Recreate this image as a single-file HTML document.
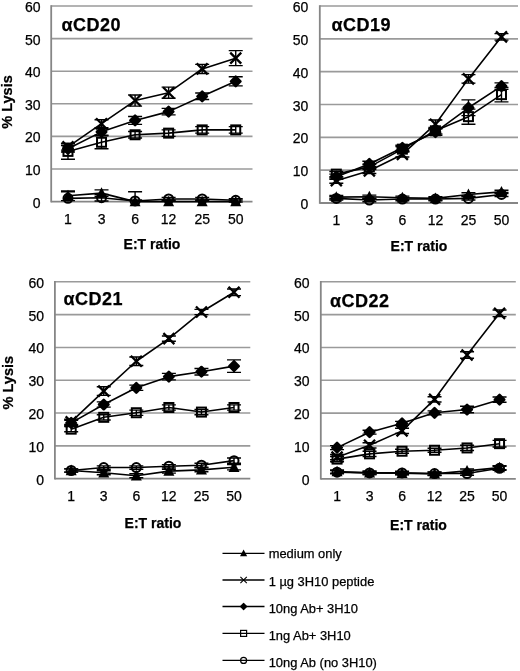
<!DOCTYPE html>
<html><head><meta charset="utf-8"><title>Lysis charts</title>
<style>
html,body{margin:0;padding:0;background:#fff;}
body{width:520px;height:671px;overflow:hidden;}
svg{display:block;font-family:"Liberation Sans", sans-serif;will-change:transform;}
text{fill:#000;stroke:#000;stroke-width:0.25px;}
</style></head>
<body>
<svg width="520" height="671" viewBox="0 0 520 671">
<rect width="520" height="671" fill="#fff"/>
<line x1="51.20" y1="169.00" x2="252.50" y2="169.00" stroke="#9a9a9a" stroke-width="1.6"/>
<line x1="51.20" y1="136.40" x2="252.50" y2="136.40" stroke="#9a9a9a" stroke-width="1.6"/>
<line x1="51.20" y1="103.80" x2="252.50" y2="103.80" stroke="#9a9a9a" stroke-width="1.6"/>
<line x1="51.20" y1="71.20" x2="252.50" y2="71.20" stroke="#9a9a9a" stroke-width="1.6"/>
<line x1="51.20" y1="38.60" x2="252.50" y2="38.60" stroke="#9a9a9a" stroke-width="1.6"/>
<line x1="51.20" y1="6.00" x2="252.50" y2="6.00" stroke="#9a9a9a" stroke-width="1.6"/>
<line x1="51.20" y1="5.20" x2="51.20" y2="202.40" stroke="#868686" stroke-width="1.8"/>
<line x1="51.20" y1="201.60" x2="252.50" y2="201.60" stroke="#868686" stroke-width="1.8"/>
<text x="40.60" y="207.60" text-anchor="end" font-size="14">0</text>
<text x="40.60" y="175.00" text-anchor="end" font-size="14">10</text>
<text x="40.60" y="142.40" text-anchor="end" font-size="14">20</text>
<text x="40.60" y="109.80" text-anchor="end" font-size="14">30</text>
<text x="40.60" y="77.20" text-anchor="end" font-size="14">40</text>
<text x="40.60" y="44.60" text-anchor="end" font-size="14">50</text>
<text x="40.60" y="12.00" text-anchor="end" font-size="14">60</text>
<text x="67.98" y="223.80" text-anchor="middle" font-size="14">1</text>
<text x="101.53" y="223.80" text-anchor="middle" font-size="14">3</text>
<text x="135.08" y="223.80" text-anchor="middle" font-size="14">6</text>
<text x="168.62" y="223.80" text-anchor="middle" font-size="14">12</text>
<text x="202.18" y="223.80" text-anchor="middle" font-size="14">25</text>
<text x="235.73" y="223.80" text-anchor="middle" font-size="14">50</text>
<text x="152.00" y="248.70" text-anchor="middle" font-size="14" font-weight="bold">E:T ratio</text>
<text x="61.50" y="30.60" font-size="18" letter-spacing="0.5" font-weight="bold">αCD20</text>
<text x="12.30" y="102.00" text-anchor="middle" font-size="14.5" font-weight="bold" transform="rotate(-90 12.30 102.00)">% Lysis</text>
<path d="M67.98,191.82 L67.98,201.60 M60.98,191.82 L74.98,191.82 " stroke="#000" stroke-width="1.4" fill="none"/>
<path d="M101.53,194.43 L101.53,200.95 M94.53,194.43 L108.53,194.43 M94.53,200.95 L108.53,200.95" stroke="#000" stroke-width="1.4" fill="none"/>
<path d="M135.08,191.82 L135.08,201.60 M128.08,191.82 L142.08,191.82 " stroke="#000" stroke-width="1.4" fill="none"/>
<path d="M168.62,197.36 L168.62,200.62 M161.62,197.36 L175.62,197.36 M161.62,200.62 L175.62,200.62" stroke="#000" stroke-width="1.4" fill="none"/>
<path d="M202.18,197.36 L202.18,200.62 M195.18,197.36 L209.18,197.36 M195.18,200.62 L209.18,200.62" stroke="#000" stroke-width="1.4" fill="none"/>
<path d="M235.73,198.67 L235.73,201.60 M228.73,198.67 L242.73,198.67 M228.73,201.93 L242.73,201.93" stroke="#000" stroke-width="1.4" fill="none"/>
<path d="M67.98,198.34 L101.53,197.69 L135.08,200.95 L168.62,198.99 L202.18,198.99 L235.73,200.30" stroke="#000" stroke-width="1.6" fill="none" stroke-linejoin="round"/>
<circle cx="67.98" cy="198.34" r="4.50" fill="none" stroke="#000" stroke-width="2.0"/>
<circle cx="101.53" cy="197.69" r="4.50" fill="none" stroke="#000" stroke-width="2.0"/>
<circle cx="135.08" cy="200.95" r="4.50" fill="none" stroke="#000" stroke-width="2.0"/>
<circle cx="168.62" cy="198.99" r="4.50" fill="none" stroke="#000" stroke-width="2.0"/>
<circle cx="202.18" cy="198.99" r="4.50" fill="none" stroke="#000" stroke-width="2.0"/>
<circle cx="235.73" cy="200.30" r="4.50" fill="none" stroke="#000" stroke-width="2.0"/>
<path d="M67.98,190.84 L67.98,200.62 M60.98,190.84 L74.98,190.84 M60.98,200.62 L74.98,200.62" stroke="#000" stroke-width="1.4" fill="none"/>
<path d="M101.53,189.86 L101.53,196.38 M94.53,189.86 L108.53,189.86 M94.53,196.38 L108.53,196.38" stroke="#000" stroke-width="1.4" fill="none"/>
<path d="M135.08,199.97 L135.08,201.60 M128.08,199.97 L142.08,199.97 " stroke="#000" stroke-width="1.4" fill="none"/>
<path d="M168.62,199.97 L168.62,201.60 M161.62,199.97 L175.62,199.97 " stroke="#000" stroke-width="1.4" fill="none"/>
<path d="M202.18,199.97 L202.18,201.60 M195.18,199.97 L209.18,199.97 " stroke="#000" stroke-width="1.4" fill="none"/>
<path d="M235.73,199.97 L235.73,201.60 M228.73,199.97 L242.73,199.97 " stroke="#000" stroke-width="1.4" fill="none"/>
<path d="M67.98,195.73 L101.53,193.12 L135.08,201.60 L168.62,201.60 L202.18,201.60 L235.73,201.60" stroke="#000" stroke-width="1.6" fill="none" stroke-linejoin="round"/>
<path d="M67.98,189.79 L73.48,200.41 L62.48,200.41Z" fill="#000"/>
<path d="M101.53,187.18 L107.03,197.80 L96.03,197.80Z" fill="#000"/>
<path d="M135.08,195.66 L140.58,206.28 L129.58,206.28Z" fill="#000"/>
<path d="M168.62,195.66 L174.12,206.28 L163.12,206.28Z" fill="#000"/>
<path d="M202.18,195.66 L207.68,206.28 L196.68,206.28Z" fill="#000"/>
<path d="M235.73,195.66 L241.23,206.28 L230.23,206.28Z" fill="#000"/>
<path d="M67.98,143.57 L67.98,159.22 M60.98,143.57 L74.98,143.57 M60.98,159.22 L74.98,159.22" stroke="#000" stroke-width="1.4" fill="none"/>
<path d="M101.53,135.75 L101.53,148.79 M94.53,135.75 L108.53,135.75 M94.53,148.79 L108.53,148.79" stroke="#000" stroke-width="1.4" fill="none"/>
<path d="M135.08,131.51 L135.08,138.03 M128.08,131.51 L142.08,131.51 M128.08,138.03 L142.08,138.03" stroke="#000" stroke-width="1.4" fill="none"/>
<path d="M168.62,129.88 L168.62,136.40 M161.62,129.88 L175.62,129.88 M161.62,136.40 L175.62,136.40" stroke="#000" stroke-width="1.4" fill="none"/>
<path d="M202.18,126.62 L202.18,133.14 M195.18,126.62 L209.18,126.62 M195.18,133.14 L209.18,133.14" stroke="#000" stroke-width="1.4" fill="none"/>
<path d="M235.73,126.62 L235.73,133.14 M228.73,126.62 L242.73,126.62 M228.73,133.14 L242.73,133.14" stroke="#000" stroke-width="1.4" fill="none"/>
<path d="M67.98,151.40 L101.53,142.27 L135.08,134.77 L168.62,133.14 L202.18,129.88 L235.73,129.88" stroke="#000" stroke-width="1.6" fill="none" stroke-linejoin="round"/>
<rect x="63.48" y="146.90" width="9.00" height="9.00" fill="none" stroke="#000" stroke-width="2.0"/>
<rect x="97.03" y="137.77" width="9.00" height="9.00" fill="none" stroke="#000" stroke-width="2.0"/>
<rect x="130.58" y="130.27" width="9.00" height="9.00" fill="none" stroke="#000" stroke-width="2.0"/>
<rect x="164.12" y="128.64" width="9.00" height="9.00" fill="none" stroke="#000" stroke-width="2.0"/>
<rect x="197.68" y="125.38" width="9.00" height="9.00" fill="none" stroke="#000" stroke-width="2.0"/>
<rect x="231.23" y="125.38" width="9.00" height="9.00" fill="none" stroke="#000" stroke-width="2.0"/>
<path d="M67.98,145.53 L67.98,152.05 M60.98,145.53 L74.98,145.53 M60.98,152.05 L74.98,152.05" stroke="#000" stroke-width="1.4" fill="none"/>
<path d="M101.53,128.58 L101.53,135.10 M94.53,128.58 L108.53,128.58 M94.53,135.10 L108.53,135.10" stroke="#000" stroke-width="1.4" fill="none"/>
<path d="M135.08,116.51 L135.08,124.34 M128.08,116.51 L142.08,116.51 M128.08,124.34 L142.08,124.34" stroke="#000" stroke-width="1.4" fill="none"/>
<path d="M168.62,108.36 L168.62,114.88 M161.62,108.36 L175.62,108.36 M161.62,114.88 L175.62,114.88" stroke="#000" stroke-width="1.4" fill="none"/>
<path d="M202.18,93.04 L202.18,99.56 M195.18,93.04 L209.18,93.04 M195.18,99.56 L209.18,99.56" stroke="#000" stroke-width="1.4" fill="none"/>
<path d="M235.73,76.74 L235.73,85.87 M228.73,76.74 L242.73,76.74 M228.73,85.87 L242.73,85.87" stroke="#000" stroke-width="1.4" fill="none"/>
<path d="M67.98,148.79 L101.53,131.84 L135.08,120.43 L168.62,111.62 L202.18,96.30 L235.73,81.31" stroke="#000" stroke-width="1.6" fill="none" stroke-linejoin="round"/>
<path d="M67.98,144.09 L72.68,148.79 L67.98,153.49 L63.28,148.79Z" fill="#000" stroke="#000" stroke-width="2.6" stroke-linejoin="round"/>
<path d="M101.53,127.14 L106.23,131.84 L101.53,136.54 L96.83,131.84Z" fill="#000" stroke="#000" stroke-width="2.6" stroke-linejoin="round"/>
<path d="M135.08,115.73 L139.78,120.43 L135.08,125.13 L130.38,120.43Z" fill="#000" stroke="#000" stroke-width="2.6" stroke-linejoin="round"/>
<path d="M168.62,106.92 L173.32,111.62 L168.62,116.32 L163.93,111.62Z" fill="#000" stroke="#000" stroke-width="2.6" stroke-linejoin="round"/>
<path d="M202.18,91.60 L206.88,96.30 L202.18,101.00 L197.48,96.30Z" fill="#000" stroke="#000" stroke-width="2.6" stroke-linejoin="round"/>
<path d="M235.73,76.61 L240.43,81.31 L235.73,86.01 L231.03,81.31Z" fill="#000" stroke="#000" stroke-width="2.6" stroke-linejoin="round"/>
<path d="M67.98,143.57 L67.98,150.09 M60.98,143.57 L74.98,143.57 M60.98,150.09 L74.98,150.09" stroke="#000" stroke-width="1.4" fill="none"/>
<path d="M101.53,119.77 L101.53,127.60 M94.53,119.77 L108.53,119.77 M94.53,127.60 L108.53,127.60" stroke="#000" stroke-width="1.4" fill="none"/>
<path d="M135.08,95.00 L135.08,106.08 M128.08,95.00 L142.08,95.00 M128.08,106.08 L142.08,106.08" stroke="#000" stroke-width="1.4" fill="none"/>
<path d="M168.62,87.17 L168.62,98.26 M161.62,87.17 L175.62,87.17 M161.62,98.26 L175.62,98.26" stroke="#000" stroke-width="1.4" fill="none"/>
<path d="M202.18,64.35 L202.18,73.48 M195.18,64.35 L209.18,64.35 M195.18,73.48 L209.18,73.48" stroke="#000" stroke-width="1.4" fill="none"/>
<path d="M235.73,50.66 L235.73,65.66 M228.73,50.66 L242.73,50.66 M228.73,65.66 L242.73,65.66" stroke="#000" stroke-width="1.4" fill="none"/>
<path d="M67.98,146.83 L101.53,123.69 L135.08,100.54 L168.62,92.72 L202.18,68.92 L235.73,58.16" stroke="#000" stroke-width="1.6" fill="none" stroke-linejoin="round"/>
<path d="M62.48,141.33 L73.48,152.33 M73.48,141.33 L62.48,152.33" stroke="#000" stroke-width="2.3" fill="none"/>
<path d="M96.03,118.19 L107.03,129.19 M107.03,118.19 L96.03,129.19" stroke="#000" stroke-width="2.3" fill="none"/>
<path d="M129.58,95.04 L140.58,106.04 M140.58,95.04 L129.58,106.04" stroke="#000" stroke-width="2.3" fill="none"/>
<path d="M163.12,87.22 L174.12,98.22 M174.12,87.22 L163.12,98.22" stroke="#000" stroke-width="2.3" fill="none"/>
<path d="M196.68,63.42 L207.68,74.42 M207.68,63.42 L196.68,74.42" stroke="#000" stroke-width="2.3" fill="none"/>
<path d="M230.23,52.66 L241.23,63.66 M241.23,52.66 L230.23,63.66" stroke="#000" stroke-width="2.3" fill="none"/>
<line x1="319.80" y1="170.17" x2="518.00" y2="170.17" stroke="#9a9a9a" stroke-width="1.6"/>
<line x1="319.80" y1="137.33" x2="518.00" y2="137.33" stroke="#9a9a9a" stroke-width="1.6"/>
<line x1="319.80" y1="104.50" x2="518.00" y2="104.50" stroke="#9a9a9a" stroke-width="1.6"/>
<line x1="319.80" y1="71.67" x2="518.00" y2="71.67" stroke="#9a9a9a" stroke-width="1.6"/>
<line x1="319.80" y1="38.83" x2="518.00" y2="38.83" stroke="#9a9a9a" stroke-width="1.6"/>
<line x1="319.80" y1="6.00" x2="518.00" y2="6.00" stroke="#9a9a9a" stroke-width="1.6"/>
<line x1="319.80" y1="5.20" x2="319.80" y2="203.80" stroke="#868686" stroke-width="1.8"/>
<line x1="319.80" y1="203.00" x2="518.00" y2="203.00" stroke="#868686" stroke-width="1.8"/>
<text x="308.40" y="209.00" text-anchor="end" font-size="14">0</text>
<text x="308.40" y="176.17" text-anchor="end" font-size="14">10</text>
<text x="308.40" y="143.33" text-anchor="end" font-size="14">20</text>
<text x="308.40" y="110.50" text-anchor="end" font-size="14">30</text>
<text x="308.40" y="77.67" text-anchor="end" font-size="14">40</text>
<text x="308.40" y="44.83" text-anchor="end" font-size="14">50</text>
<text x="308.40" y="12.00" text-anchor="end" font-size="14">60</text>
<text x="336.32" y="224.90" text-anchor="middle" font-size="14">1</text>
<text x="369.35" y="224.90" text-anchor="middle" font-size="14">3</text>
<text x="402.38" y="224.90" text-anchor="middle" font-size="14">6</text>
<text x="435.42" y="224.90" text-anchor="middle" font-size="14">12</text>
<text x="468.45" y="224.90" text-anchor="middle" font-size="14">25</text>
<text x="501.48" y="224.90" text-anchor="middle" font-size="14">50</text>
<text x="419.00" y="250.70" text-anchor="middle" font-size="14" font-weight="bold">E:T ratio</text>
<text x="331.50" y="30.90" font-size="18" letter-spacing="0.5" font-weight="bold">αCD19</text>
<path d="M336.32,196.76 L336.32,200.05 M329.32,196.76 L343.32,196.76 M329.32,200.05 L343.32,200.05" stroke="#000" stroke-width="1.4" fill="none"/>
<path d="M369.35,198.40 L369.35,201.69 M362.35,198.40 L376.35,198.40 M362.35,201.69 L376.35,201.69" stroke="#000" stroke-width="1.4" fill="none"/>
<path d="M402.38,197.42 L402.38,200.70 M395.38,197.42 L409.38,197.42 M395.38,200.70 L409.38,200.70" stroke="#000" stroke-width="1.4" fill="none"/>
<path d="M435.42,197.42 L435.42,200.70 M428.42,197.42 L442.42,197.42 M428.42,200.70 L442.42,200.70" stroke="#000" stroke-width="1.4" fill="none"/>
<path d="M468.45,196.76 L468.45,200.05 M461.45,196.76 L475.45,196.76 M461.45,200.05 L475.45,200.05" stroke="#000" stroke-width="1.4" fill="none"/>
<path d="M501.48,192.49 L501.48,196.43 M494.48,192.49 L508.48,192.49 M494.48,196.43 L508.48,196.43" stroke="#000" stroke-width="1.4" fill="none"/>
<path d="M336.32,198.40 L369.35,200.04 L402.38,199.06 L435.42,199.06 L468.45,198.40 L501.48,194.46" stroke="#000" stroke-width="1.6" fill="none" stroke-linejoin="round"/>
<circle cx="336.32" cy="198.40" r="4.50" fill="none" stroke="#000" stroke-width="2.0"/>
<circle cx="369.35" cy="200.04" r="4.50" fill="none" stroke="#000" stroke-width="2.0"/>
<circle cx="402.38" cy="199.06" r="4.50" fill="none" stroke="#000" stroke-width="2.0"/>
<circle cx="435.42" cy="199.06" r="4.50" fill="none" stroke="#000" stroke-width="2.0"/>
<circle cx="468.45" cy="198.40" r="4.50" fill="none" stroke="#000" stroke-width="2.0"/>
<circle cx="501.48" cy="194.46" r="4.50" fill="none" stroke="#000" stroke-width="2.0"/>
<path d="M336.32,195.45 L336.32,198.73 M329.32,195.45 L343.32,195.45 M329.32,198.73 L343.32,198.73" stroke="#000" stroke-width="1.4" fill="none"/>
<path d="M369.35,195.12 L369.35,198.40 M362.35,195.12 L376.35,195.12 M362.35,198.40 L376.35,198.40" stroke="#000" stroke-width="1.4" fill="none"/>
<path d="M402.38,196.10 L402.38,199.39 M395.38,196.10 L409.38,196.10 M395.38,199.39 L409.38,199.39" stroke="#000" stroke-width="1.4" fill="none"/>
<path d="M435.42,196.76 L435.42,200.05 M428.42,196.76 L442.42,196.76 M428.42,200.05 L442.42,200.05" stroke="#000" stroke-width="1.4" fill="none"/>
<path d="M468.45,192.82 L468.45,196.11 M461.45,192.82 L475.45,192.82 M461.45,196.11 L475.45,196.11" stroke="#000" stroke-width="1.4" fill="none"/>
<path d="M501.48,190.19 L501.48,193.48 M494.48,190.19 L508.48,190.19 M494.48,193.48 L508.48,193.48" stroke="#000" stroke-width="1.4" fill="none"/>
<path d="M336.32,197.09 L369.35,196.76 L402.38,197.75 L435.42,198.40 L468.45,194.46 L501.48,191.84" stroke="#000" stroke-width="1.6" fill="none" stroke-linejoin="round"/>
<path d="M336.32,191.15 L341.82,201.77 L330.82,201.77Z" fill="#000"/>
<path d="M369.35,190.82 L374.85,201.44 L363.85,201.44Z" fill="#000"/>
<path d="M402.38,191.81 L407.88,202.42 L396.88,202.42Z" fill="#000"/>
<path d="M435.42,192.46 L440.92,203.08 L429.92,203.08Z" fill="#000"/>
<path d="M468.45,188.52 L473.95,199.14 L462.95,199.14Z" fill="#000"/>
<path d="M501.48,185.90 L506.98,196.51 L495.98,196.51Z" fill="#000"/>
<path d="M336.32,171.48 L336.32,176.73 M329.32,171.48 L343.32,171.48 M329.32,176.73 L343.32,176.73" stroke="#000" stroke-width="1.4" fill="none"/>
<path d="M369.35,164.26 L369.35,169.51 M362.35,164.26 L376.35,164.26 M362.35,169.51 L376.35,169.51" stroke="#000" stroke-width="1.4" fill="none"/>
<path d="M402.38,146.53 L402.38,151.78 M395.38,146.53 L409.38,146.53 M395.38,151.78 L409.38,151.78" stroke="#000" stroke-width="1.4" fill="none"/>
<path d="M435.42,127.48 L435.42,134.05 M428.42,127.48 L442.42,127.48 M428.42,134.05 L442.42,134.05" stroke="#000" stroke-width="1.4" fill="none"/>
<path d="M468.45,109.10 L468.45,124.20 M461.45,109.10 L475.45,109.10 M461.45,124.20 L475.45,124.20" stroke="#000" stroke-width="1.4" fill="none"/>
<path d="M501.48,87.43 L501.48,101.87 M494.48,87.43 L508.48,87.43 M494.48,101.87 L508.48,101.87" stroke="#000" stroke-width="1.4" fill="none"/>
<path d="M336.32,174.11 L369.35,166.88 L402.38,149.15 L435.42,130.77 L468.45,116.65 L501.48,94.65" stroke="#000" stroke-width="1.6" fill="none" stroke-linejoin="round"/>
<rect x="331.82" y="169.61" width="9.00" height="9.00" fill="none" stroke="#000" stroke-width="2.0"/>
<rect x="364.85" y="162.38" width="9.00" height="9.00" fill="none" stroke="#000" stroke-width="2.0"/>
<rect x="397.88" y="144.65" width="9.00" height="9.00" fill="none" stroke="#000" stroke-width="2.0"/>
<rect x="430.92" y="126.27" width="9.00" height="9.00" fill="none" stroke="#000" stroke-width="2.0"/>
<rect x="463.95" y="112.15" width="9.00" height="9.00" fill="none" stroke="#000" stroke-width="2.0"/>
<rect x="496.98" y="90.15" width="9.00" height="9.00" fill="none" stroke="#000" stroke-width="2.0"/>
<path d="M336.32,174.11 L336.32,179.36 M329.32,174.11 L343.32,174.11 M329.32,179.36 L343.32,179.36" stroke="#000" stroke-width="1.4" fill="none"/>
<path d="M369.35,161.30 L369.35,166.56 M362.35,161.30 L376.35,161.30 M362.35,166.56 L376.35,166.56" stroke="#000" stroke-width="1.4" fill="none"/>
<path d="M402.38,145.21 L402.38,150.47 M395.38,145.21 L409.38,145.21 M395.38,150.47 L409.38,150.47" stroke="#000" stroke-width="1.4" fill="none"/>
<path d="M435.42,128.80 L435.42,135.36 M428.42,128.80 L442.42,128.80 M428.42,135.36 L442.42,135.36" stroke="#000" stroke-width="1.4" fill="none"/>
<path d="M468.45,99.90 L468.45,115.66 M461.45,99.90 L475.45,99.90 M461.45,115.66 L475.45,115.66" stroke="#000" stroke-width="1.4" fill="none"/>
<path d="M501.48,82.83 L501.48,89.40 M494.48,82.83 L508.48,82.83 M494.48,89.40 L508.48,89.40" stroke="#000" stroke-width="1.4" fill="none"/>
<path d="M336.32,176.73 L369.35,163.93 L402.38,147.84 L435.42,132.08 L468.45,107.78 L501.48,86.11" stroke="#000" stroke-width="1.6" fill="none" stroke-linejoin="round"/>
<path d="M336.32,172.03 L341.02,176.73 L336.32,181.43 L331.62,176.73Z" fill="#000" stroke="#000" stroke-width="2.6" stroke-linejoin="round"/>
<path d="M369.35,159.23 L374.05,163.93 L369.35,168.63 L364.65,163.93Z" fill="#000" stroke="#000" stroke-width="2.6" stroke-linejoin="round"/>
<path d="M402.38,143.14 L407.08,147.84 L402.38,152.54 L397.68,147.84Z" fill="#000" stroke="#000" stroke-width="2.6" stroke-linejoin="round"/>
<path d="M435.42,127.38 L440.12,132.08 L435.42,136.78 L430.72,132.08Z" fill="#000" stroke="#000" stroke-width="2.6" stroke-linejoin="round"/>
<path d="M468.45,103.08 L473.15,107.78 L468.45,112.48 L463.75,107.78Z" fill="#000" stroke="#000" stroke-width="2.6" stroke-linejoin="round"/>
<path d="M501.48,81.41 L506.18,86.11 L501.48,90.81 L496.78,86.11Z" fill="#000" stroke="#000" stroke-width="2.6" stroke-linejoin="round"/>
<path d="M336.32,178.05 L336.32,183.30 M329.32,178.05 L343.32,178.05 M329.32,183.30 L343.32,183.30" stroke="#000" stroke-width="1.4" fill="none"/>
<path d="M369.35,168.20 L369.35,173.45 M362.35,168.20 L376.35,168.20 M362.35,173.45 L376.35,173.45" stroke="#000" stroke-width="1.4" fill="none"/>
<path d="M402.38,151.78 L402.38,157.03 M395.38,151.78 L409.38,151.78 M395.38,157.03 L409.38,157.03" stroke="#000" stroke-width="1.4" fill="none"/>
<path d="M435.42,119.93 L435.42,128.47 M428.42,119.93 L442.42,119.93 M428.42,128.47 L442.42,128.47" stroke="#000" stroke-width="1.4" fill="none"/>
<path d="M468.45,74.62 L468.45,83.16 M461.45,74.62 L475.45,74.62 M461.45,83.16 L475.45,83.16" stroke="#000" stroke-width="1.4" fill="none"/>
<path d="M501.48,33.58 L501.48,40.15 M494.48,33.58 L508.48,33.58 M494.48,40.15 L508.48,40.15" stroke="#000" stroke-width="1.4" fill="none"/>
<path d="M336.32,180.67 L369.35,170.82 L402.38,154.41 L435.42,124.20 L468.45,78.89 L501.48,36.86" stroke="#000" stroke-width="1.6" fill="none" stroke-linejoin="round"/>
<path d="M330.82,175.17 L341.82,186.17 M341.82,175.17 L330.82,186.17" stroke="#000" stroke-width="2.3" fill="none"/>
<path d="M363.85,165.32 L374.85,176.32 M374.85,165.32 L363.85,176.32" stroke="#000" stroke-width="2.3" fill="none"/>
<path d="M396.88,148.91 L407.88,159.91 M407.88,148.91 L396.88,159.91" stroke="#000" stroke-width="2.3" fill="none"/>
<path d="M429.92,118.70 L440.92,129.70 M440.92,118.70 L429.92,129.70" stroke="#000" stroke-width="2.3" fill="none"/>
<path d="M462.95,73.39 L473.95,84.39 M473.95,73.39 L462.95,84.39" stroke="#000" stroke-width="2.3" fill="none"/>
<path d="M495.98,31.36 L506.98,42.36 M506.98,31.36 L495.98,42.36" stroke="#000" stroke-width="2.3" fill="none"/>
<line x1="54.90" y1="445.88" x2="250.30" y2="445.88" stroke="#9a9a9a" stroke-width="1.6"/>
<line x1="54.90" y1="413.07" x2="250.30" y2="413.07" stroke="#9a9a9a" stroke-width="1.6"/>
<line x1="54.90" y1="380.25" x2="250.30" y2="380.25" stroke="#9a9a9a" stroke-width="1.6"/>
<line x1="54.90" y1="347.43" x2="250.30" y2="347.43" stroke="#9a9a9a" stroke-width="1.6"/>
<line x1="54.90" y1="314.62" x2="250.30" y2="314.62" stroke="#9a9a9a" stroke-width="1.6"/>
<line x1="54.90" y1="281.80" x2="250.30" y2="281.80" stroke="#9a9a9a" stroke-width="1.6"/>
<line x1="54.90" y1="281.00" x2="54.90" y2="479.50" stroke="#868686" stroke-width="1.8"/>
<line x1="54.90" y1="478.70" x2="250.30" y2="478.70" stroke="#868686" stroke-width="1.8"/>
<text x="44.00" y="484.70" text-anchor="end" font-size="14">0</text>
<text x="44.00" y="451.88" text-anchor="end" font-size="14">10</text>
<text x="44.00" y="419.07" text-anchor="end" font-size="14">20</text>
<text x="44.00" y="386.25" text-anchor="end" font-size="14">30</text>
<text x="44.00" y="353.43" text-anchor="end" font-size="14">40</text>
<text x="44.00" y="320.62" text-anchor="end" font-size="14">50</text>
<text x="44.00" y="287.80" text-anchor="end" font-size="14">60</text>
<text x="71.18" y="500.50" text-anchor="middle" font-size="14">1</text>
<text x="103.75" y="500.50" text-anchor="middle" font-size="14">3</text>
<text x="136.32" y="500.50" text-anchor="middle" font-size="14">6</text>
<text x="168.88" y="500.50" text-anchor="middle" font-size="14">12</text>
<text x="201.45" y="500.50" text-anchor="middle" font-size="14">25</text>
<text x="234.02" y="500.50" text-anchor="middle" font-size="14">50</text>
<text x="153.00" y="527.60" text-anchor="middle" font-size="14" font-weight="bold">E:T ratio</text>
<text x="63.50" y="305.30" font-size="18" letter-spacing="0.5" font-weight="bold">αCD21</text>
<text x="12.60" y="382.70" text-anchor="middle" font-size="14.5" font-weight="bold" transform="rotate(-90 12.60 382.70)">% Lysis</text>
<path d="M71.18,468.86 L71.18,472.14 M64.18,468.86 L78.18,468.86 M64.18,472.14 L78.18,472.14" stroke="#000" stroke-width="1.4" fill="none"/>
<path d="M103.75,465.90 L103.75,469.18 M96.75,465.90 L110.75,465.90 M96.75,469.18 L110.75,469.18" stroke="#000" stroke-width="1.4" fill="none"/>
<path d="M136.32,465.90 L136.32,469.18 M129.32,465.90 L143.32,465.90 M129.32,469.18 L143.32,469.18" stroke="#000" stroke-width="1.4" fill="none"/>
<path d="M168.88,464.59 L168.88,467.87 M161.88,464.59 L175.88,464.59 M161.88,467.87 L175.88,467.87" stroke="#000" stroke-width="1.4" fill="none"/>
<path d="M201.45,463.28 L201.45,467.21 M194.45,463.28 L208.45,463.28 M194.45,467.21 L208.45,467.21" stroke="#000" stroke-width="1.4" fill="none"/>
<path d="M234.02,458.03 L234.02,463.28 M227.02,458.03 L241.02,458.03 M227.02,463.28 L241.02,463.28" stroke="#000" stroke-width="1.4" fill="none"/>
<path d="M71.18,470.50 L103.75,467.54 L136.32,467.54 L168.88,466.23 L201.45,465.25 L234.02,460.65" stroke="#000" stroke-width="1.6" fill="none" stroke-linejoin="round"/>
<circle cx="71.18" cy="470.50" r="4.50" fill="none" stroke="#000" stroke-width="2.0"/>
<circle cx="103.75" cy="467.54" r="4.50" fill="none" stroke="#000" stroke-width="2.0"/>
<circle cx="136.32" cy="467.54" r="4.50" fill="none" stroke="#000" stroke-width="2.0"/>
<circle cx="168.88" cy="466.23" r="4.50" fill="none" stroke="#000" stroke-width="2.0"/>
<circle cx="201.45" cy="465.25" r="4.50" fill="none" stroke="#000" stroke-width="2.0"/>
<circle cx="234.02" cy="460.65" r="4.50" fill="none" stroke="#000" stroke-width="2.0"/>
<path d="M71.18,468.86 L71.18,472.14 M64.18,468.86 L78.18,468.86 M64.18,472.14 L78.18,472.14" stroke="#000" stroke-width="1.4" fill="none"/>
<path d="M103.75,470.82 L103.75,474.76 M96.75,470.82 L110.75,470.82 M96.75,474.76 L110.75,474.76" stroke="#000" stroke-width="1.4" fill="none"/>
<path d="M136.32,473.78 L136.32,477.72 M129.32,473.78 L143.32,473.78 M129.32,477.72 L143.32,477.72" stroke="#000" stroke-width="1.4" fill="none"/>
<path d="M168.88,469.18 L168.88,473.12 M161.88,469.18 L175.88,469.18 M161.88,473.12 L175.88,473.12" stroke="#000" stroke-width="1.4" fill="none"/>
<path d="M201.45,467.87 L201.45,471.81 M194.45,467.87 L208.45,467.87 M194.45,471.81 L208.45,471.81" stroke="#000" stroke-width="1.4" fill="none"/>
<path d="M234.02,464.59 L234.02,469.84 M227.02,464.59 L241.02,464.59 M227.02,469.84 L241.02,469.84" stroke="#000" stroke-width="1.4" fill="none"/>
<path d="M71.18,470.50 L103.75,472.79 L136.32,475.75 L168.88,471.15 L201.45,469.84 L234.02,467.21" stroke="#000" stroke-width="1.6" fill="none" stroke-linejoin="round"/>
<path d="M71.18,464.56 L76.68,475.17 L65.68,475.17Z" fill="#000"/>
<path d="M103.75,466.85 L109.25,477.47 L98.25,477.47Z" fill="#000"/>
<path d="M136.32,469.81 L141.82,480.42 L130.82,480.42Z" fill="#000"/>
<path d="M168.88,465.21 L174.38,475.83 L163.38,475.83Z" fill="#000"/>
<path d="M201.45,463.90 L206.95,474.51 L195.95,474.51Z" fill="#000"/>
<path d="M234.02,461.27 L239.52,471.89 L228.52,471.89Z" fill="#000"/>
<path d="M71.18,426.52 L71.18,431.77 M64.18,426.52 L78.18,426.52 M64.18,431.77 L78.18,431.77" stroke="#000" stroke-width="1.4" fill="none"/>
<path d="M103.75,414.71 L103.75,419.96 M96.75,414.71 L110.75,414.71 M96.75,419.96 L110.75,419.96" stroke="#000" stroke-width="1.4" fill="none"/>
<path d="M136.32,410.11 L136.32,415.36 M129.32,410.11 L143.32,410.11 M129.32,415.36 L143.32,415.36" stroke="#000" stroke-width="1.4" fill="none"/>
<path d="M168.88,404.86 L168.88,410.11 M161.88,404.86 L175.88,404.86 M161.88,410.11 L175.88,410.11" stroke="#000" stroke-width="1.4" fill="none"/>
<path d="M201.45,409.46 L201.45,414.71 M194.45,409.46 L208.45,409.46 M194.45,414.71 L208.45,414.71" stroke="#000" stroke-width="1.4" fill="none"/>
<path d="M234.02,404.86 L234.02,410.11 M227.02,404.86 L241.02,404.86 M227.02,410.11 L241.02,410.11" stroke="#000" stroke-width="1.4" fill="none"/>
<path d="M71.18,429.15 L103.75,417.33 L136.32,412.74 L168.88,407.49 L201.45,412.08 L234.02,407.49" stroke="#000" stroke-width="1.6" fill="none" stroke-linejoin="round"/>
<rect x="66.68" y="424.65" width="9.00" height="9.00" fill="none" stroke="#000" stroke-width="2.0"/>
<rect x="99.25" y="412.83" width="9.00" height="9.00" fill="none" stroke="#000" stroke-width="2.0"/>
<rect x="131.82" y="408.24" width="9.00" height="9.00" fill="none" stroke="#000" stroke-width="2.0"/>
<rect x="164.38" y="402.99" width="9.00" height="9.00" fill="none" stroke="#000" stroke-width="2.0"/>
<rect x="196.95" y="407.58" width="9.00" height="9.00" fill="none" stroke="#000" stroke-width="2.0"/>
<rect x="229.52" y="402.99" width="9.00" height="9.00" fill="none" stroke="#000" stroke-width="2.0"/>
<path d="M71.18,420.29 L71.18,425.54 M64.18,420.29 L78.18,420.29 M64.18,425.54 L78.18,425.54" stroke="#000" stroke-width="1.4" fill="none"/>
<path d="M103.75,401.91 L103.75,407.16 M96.75,401.91 L110.75,401.91 M96.75,407.16 L110.75,407.16" stroke="#000" stroke-width="1.4" fill="none"/>
<path d="M136.32,385.17 L136.32,390.42 M129.32,385.17 L143.32,385.17 M129.32,390.42 L143.32,390.42" stroke="#000" stroke-width="1.4" fill="none"/>
<path d="M168.88,373.36 L168.88,379.92 M161.88,373.36 L175.88,373.36 M161.88,379.92 L175.88,379.92" stroke="#000" stroke-width="1.4" fill="none"/>
<path d="M201.45,368.44 L201.45,375.00 M194.45,368.44 L208.45,368.44 M194.45,375.00 L208.45,375.00" stroke="#000" stroke-width="1.4" fill="none"/>
<path d="M234.02,359.90 L234.02,372.37 M227.02,359.90 L241.02,359.90 M227.02,372.37 L241.02,372.37" stroke="#000" stroke-width="1.4" fill="none"/>
<path d="M71.18,422.91 L103.75,404.53 L136.32,387.80 L168.88,376.64 L201.45,371.72 L234.02,366.14" stroke="#000" stroke-width="1.6" fill="none" stroke-linejoin="round"/>
<path d="M71.18,418.21 L75.88,422.91 L71.18,427.61 L66.48,422.91Z" fill="#000" stroke="#000" stroke-width="2.6" stroke-linejoin="round"/>
<path d="M103.75,399.83 L108.45,404.53 L103.75,409.23 L99.05,404.53Z" fill="#000" stroke="#000" stroke-width="2.6" stroke-linejoin="round"/>
<path d="M136.32,383.10 L141.02,387.80 L136.32,392.50 L131.62,387.80Z" fill="#000" stroke="#000" stroke-width="2.6" stroke-linejoin="round"/>
<path d="M168.88,371.94 L173.58,376.64 L168.88,381.34 L164.18,376.64Z" fill="#000" stroke="#000" stroke-width="2.6" stroke-linejoin="round"/>
<path d="M201.45,367.02 L206.15,371.72 L201.45,376.42 L196.75,371.72Z" fill="#000" stroke="#000" stroke-width="2.6" stroke-linejoin="round"/>
<path d="M234.02,361.44 L238.72,366.14 L234.02,370.84 L229.32,366.14Z" fill="#000" stroke="#000" stroke-width="2.6" stroke-linejoin="round"/>
<path d="M71.18,419.30 L71.18,424.55 M64.18,419.30 L78.18,419.30 M64.18,424.55 L78.18,424.55" stroke="#000" stroke-width="1.4" fill="none"/>
<path d="M103.75,386.81 L103.75,395.35 M96.75,386.81 L110.75,386.81 M96.75,395.35 L110.75,395.35" stroke="#000" stroke-width="1.4" fill="none"/>
<path d="M136.32,356.95 L136.32,365.48 M129.32,356.95 L143.32,356.95 M129.32,365.48 L143.32,365.48" stroke="#000" stroke-width="1.4" fill="none"/>
<path d="M168.88,335.95 L168.88,341.20 M161.88,335.95 L175.88,335.95 M161.88,341.20 L175.88,341.20" stroke="#000" stroke-width="1.4" fill="none"/>
<path d="M201.45,309.37 L201.45,314.62 M194.45,309.37 L208.45,309.37 M194.45,314.62 L208.45,314.62" stroke="#000" stroke-width="1.4" fill="none"/>
<path d="M234.02,289.02 L234.02,295.58 M227.02,289.02 L241.02,289.02 M227.02,295.58 L241.02,295.58" stroke="#000" stroke-width="1.4" fill="none"/>
<path d="M71.18,421.93 L103.75,391.08 L136.32,361.22 L168.88,338.57 L201.45,311.99 L234.02,292.30" stroke="#000" stroke-width="1.6" fill="none" stroke-linejoin="round"/>
<path d="M65.68,416.43 L76.68,427.43 M76.68,416.43 L65.68,427.43" stroke="#000" stroke-width="2.3" fill="none"/>
<path d="M98.25,385.58 L109.25,396.58 M109.25,385.58 L98.25,396.58" stroke="#000" stroke-width="2.3" fill="none"/>
<path d="M130.82,355.72 L141.82,366.72 M141.82,355.72 L130.82,366.72" stroke="#000" stroke-width="2.3" fill="none"/>
<path d="M163.38,333.07 L174.38,344.07 M174.38,333.07 L163.38,344.07" stroke="#000" stroke-width="2.3" fill="none"/>
<path d="M195.95,306.49 L206.95,317.49 M206.95,306.49 L195.95,317.49" stroke="#000" stroke-width="2.3" fill="none"/>
<path d="M228.52,286.80 L239.52,297.80 M239.52,286.80 L228.52,297.80" stroke="#000" stroke-width="2.3" fill="none"/>
<line x1="320.80" y1="445.97" x2="515.80" y2="445.97" stroke="#9a9a9a" stroke-width="1.6"/>
<line x1="320.80" y1="413.13" x2="515.80" y2="413.13" stroke="#9a9a9a" stroke-width="1.6"/>
<line x1="320.80" y1="380.30" x2="515.80" y2="380.30" stroke="#9a9a9a" stroke-width="1.6"/>
<line x1="320.80" y1="347.47" x2="515.80" y2="347.47" stroke="#9a9a9a" stroke-width="1.6"/>
<line x1="320.80" y1="314.63" x2="515.80" y2="314.63" stroke="#9a9a9a" stroke-width="1.6"/>
<line x1="320.80" y1="281.80" x2="515.80" y2="281.80" stroke="#9a9a9a" stroke-width="1.6"/>
<line x1="320.80" y1="281.00" x2="320.80" y2="479.60" stroke="#868686" stroke-width="1.8"/>
<line x1="320.80" y1="478.80" x2="515.80" y2="478.80" stroke="#868686" stroke-width="1.8"/>
<text x="309.50" y="484.80" text-anchor="end" font-size="14">0</text>
<text x="309.50" y="451.97" text-anchor="end" font-size="14">10</text>
<text x="309.50" y="419.13" text-anchor="end" font-size="14">20</text>
<text x="309.50" y="386.30" text-anchor="end" font-size="14">30</text>
<text x="309.50" y="353.47" text-anchor="end" font-size="14">40</text>
<text x="309.50" y="320.63" text-anchor="end" font-size="14">50</text>
<text x="309.50" y="287.80" text-anchor="end" font-size="14">60</text>
<text x="337.05" y="500.80" text-anchor="middle" font-size="14">1</text>
<text x="369.55" y="500.80" text-anchor="middle" font-size="14">3</text>
<text x="402.05" y="500.80" text-anchor="middle" font-size="14">6</text>
<text x="434.55" y="500.80" text-anchor="middle" font-size="14">12</text>
<text x="467.05" y="500.80" text-anchor="middle" font-size="14">25</text>
<text x="499.55" y="500.80" text-anchor="middle" font-size="14">50</text>
<text x="418.50" y="529.50" text-anchor="middle" font-size="14" font-weight="bold">E:T ratio</text>
<text x="330.00" y="306.50" font-size="18" letter-spacing="0.5" font-weight="bold">αCD22</text>
<path d="M337.05,470.59 L337.05,473.88 M330.05,470.59 L344.05,470.59 M330.05,473.88 L344.05,473.88" stroke="#000" stroke-width="1.4" fill="none"/>
<path d="M369.55,471.25 L369.55,474.53 M362.55,471.25 L376.55,471.25 M362.55,474.53 L376.55,474.53" stroke="#000" stroke-width="1.4" fill="none"/>
<path d="M402.05,471.25 L402.05,474.53 M395.05,471.25 L409.05,471.25 M395.05,474.53 L409.05,474.53" stroke="#000" stroke-width="1.4" fill="none"/>
<path d="M434.55,471.91 L434.55,475.19 M427.55,471.91 L441.55,471.91 M427.55,475.19 L441.55,475.19" stroke="#000" stroke-width="1.4" fill="none"/>
<path d="M467.05,471.91 L467.05,475.19 M460.05,471.91 L474.05,471.91 M460.05,475.19 L474.05,475.19" stroke="#000" stroke-width="1.4" fill="none"/>
<path d="M499.55,466.32 L499.55,470.26 M492.55,466.32 L506.55,466.32 M492.55,470.26 L506.55,470.26" stroke="#000" stroke-width="1.4" fill="none"/>
<path d="M337.05,472.23 L369.55,472.89 L402.05,472.89 L434.55,473.55 L467.05,473.55 L499.55,468.29" stroke="#000" stroke-width="1.6" fill="none" stroke-linejoin="round"/>
<circle cx="337.05" cy="472.23" r="4.50" fill="none" stroke="#000" stroke-width="2.0"/>
<circle cx="369.55" cy="472.89" r="4.50" fill="none" stroke="#000" stroke-width="2.0"/>
<circle cx="402.05" cy="472.89" r="4.50" fill="none" stroke="#000" stroke-width="2.0"/>
<circle cx="434.55" cy="473.55" r="4.50" fill="none" stroke="#000" stroke-width="2.0"/>
<circle cx="467.05" cy="473.55" r="4.50" fill="none" stroke="#000" stroke-width="2.0"/>
<circle cx="499.55" cy="468.29" r="4.50" fill="none" stroke="#000" stroke-width="2.0"/>
<path d="M337.05,469.94 L337.05,473.22 M330.05,469.94 L344.05,469.94 M330.05,473.22 L344.05,473.22" stroke="#000" stroke-width="1.4" fill="none"/>
<path d="M369.55,471.25 L369.55,474.53 M362.55,471.25 L376.55,471.25 M362.55,474.53 L376.55,474.53" stroke="#000" stroke-width="1.4" fill="none"/>
<path d="M402.05,471.58 L402.05,474.86 M395.05,471.58 L409.05,471.58 M395.05,474.86 L409.05,474.86" stroke="#000" stroke-width="1.4" fill="none"/>
<path d="M434.55,472.23 L434.55,475.52 M427.55,472.23 L441.55,472.23 M427.55,475.52 L441.55,475.52" stroke="#000" stroke-width="1.4" fill="none"/>
<path d="M467.05,468.95 L467.05,472.89 M460.05,468.95 L474.05,468.95 M460.05,472.89 L474.05,472.89" stroke="#000" stroke-width="1.4" fill="none"/>
<path d="M499.55,465.67 L499.55,469.61 M492.55,465.67 L506.55,465.67 M492.55,469.61 L506.55,469.61" stroke="#000" stroke-width="1.4" fill="none"/>
<path d="M337.05,471.58 L369.55,472.89 L402.05,473.22 L434.55,473.88 L467.05,470.92 L499.55,467.64" stroke="#000" stroke-width="1.6" fill="none" stroke-linejoin="round"/>
<path d="M337.05,465.64 L342.55,476.25 L331.55,476.25Z" fill="#000"/>
<path d="M369.55,466.95 L375.05,477.56 L364.05,477.56Z" fill="#000"/>
<path d="M402.05,467.28 L407.55,477.89 L396.55,477.89Z" fill="#000"/>
<path d="M434.55,467.94 L440.05,478.55 L429.05,478.55Z" fill="#000"/>
<path d="M467.05,464.98 L472.55,475.60 L461.55,475.60Z" fill="#000"/>
<path d="M499.55,461.70 L505.05,472.31 L494.05,472.31Z" fill="#000"/>
<path d="M337.05,456.47 L337.05,461.73 M330.05,456.47 L344.05,456.47 M330.05,461.73 L344.05,461.73" stroke="#000" stroke-width="1.4" fill="none"/>
<path d="M369.55,451.22 L369.55,456.47 M362.55,451.22 L376.55,451.22 M362.55,456.47 L376.55,456.47" stroke="#000" stroke-width="1.4" fill="none"/>
<path d="M402.05,449.25 L402.05,453.19 M395.05,449.25 L409.05,449.25 M395.05,453.19 L409.05,453.19" stroke="#000" stroke-width="1.4" fill="none"/>
<path d="M434.55,448.26 L434.55,452.21 M427.55,448.26 L441.55,448.26 M427.55,452.21 L441.55,452.21" stroke="#000" stroke-width="1.4" fill="none"/>
<path d="M467.05,445.31 L467.05,450.56 M460.05,445.31 L474.05,445.31 M460.05,450.56 L474.05,450.56" stroke="#000" stroke-width="1.4" fill="none"/>
<path d="M499.55,440.38 L499.55,446.95 M492.55,440.38 L506.55,440.38 M492.55,446.95 L506.55,446.95" stroke="#000" stroke-width="1.4" fill="none"/>
<path d="M337.05,459.10 L369.55,453.85 L402.05,451.22 L434.55,450.24 L467.05,447.94 L499.55,443.67" stroke="#000" stroke-width="1.6" fill="none" stroke-linejoin="round"/>
<rect x="332.55" y="454.60" width="9.00" height="9.00" fill="none" stroke="#000" stroke-width="2.0"/>
<rect x="365.05" y="449.35" width="9.00" height="9.00" fill="none" stroke="#000" stroke-width="2.0"/>
<rect x="397.55" y="446.72" width="9.00" height="9.00" fill="none" stroke="#000" stroke-width="2.0"/>
<rect x="430.05" y="445.74" width="9.00" height="9.00" fill="none" stroke="#000" stroke-width="2.0"/>
<rect x="462.55" y="443.44" width="9.00" height="9.00" fill="none" stroke="#000" stroke-width="2.0"/>
<rect x="495.05" y="439.17" width="9.00" height="9.00" fill="none" stroke="#000" stroke-width="2.0"/>
<path d="M337.05,445.64 L337.05,449.58 M330.05,445.64 L344.05,445.64 M330.05,449.58 L344.05,449.58" stroke="#000" stroke-width="1.4" fill="none"/>
<path d="M369.55,430.21 L369.55,434.15 M362.55,430.21 L376.55,430.21 M362.55,434.15 L376.55,434.15" stroke="#000" stroke-width="1.4" fill="none"/>
<path d="M402.05,421.34 L402.05,425.28 M395.05,421.34 L409.05,421.34 M395.05,425.28 L409.05,425.28" stroke="#000" stroke-width="1.4" fill="none"/>
<path d="M434.55,410.83 L434.55,414.78 M427.55,410.83 L441.55,410.83 M427.55,414.78 L441.55,414.78" stroke="#000" stroke-width="1.4" fill="none"/>
<path d="M467.05,406.24 L467.05,412.81 M460.05,406.24 L474.05,406.24 M460.05,412.81 L474.05,412.81" stroke="#000" stroke-width="1.4" fill="none"/>
<path d="M499.55,397.05 L499.55,402.30 M492.55,397.05 L506.55,397.05 M492.55,402.30 L506.55,402.30" stroke="#000" stroke-width="1.4" fill="none"/>
<path d="M337.05,447.61 L369.55,432.18 L402.05,423.31 L434.55,412.81 L467.05,409.52 L499.55,399.67" stroke="#000" stroke-width="1.6" fill="none" stroke-linejoin="round"/>
<path d="M337.05,442.91 L341.75,447.61 L337.05,452.31 L332.35,447.61Z" fill="#000" stroke="#000" stroke-width="2.6" stroke-linejoin="round"/>
<path d="M369.55,427.48 L374.25,432.18 L369.55,436.88 L364.85,432.18Z" fill="#000" stroke="#000" stroke-width="2.6" stroke-linejoin="round"/>
<path d="M402.05,418.61 L406.75,423.31 L402.05,428.01 L397.35,423.31Z" fill="#000" stroke="#000" stroke-width="2.6" stroke-linejoin="round"/>
<path d="M434.55,408.11 L439.25,412.81 L434.55,417.50 L429.85,412.81Z" fill="#000" stroke="#000" stroke-width="2.6" stroke-linejoin="round"/>
<path d="M467.05,404.82 L471.75,409.52 L467.05,414.22 L462.35,409.52Z" fill="#000" stroke="#000" stroke-width="2.6" stroke-linejoin="round"/>
<path d="M499.55,394.97 L504.25,399.67 L499.55,404.37 L494.85,399.67Z" fill="#000" stroke="#000" stroke-width="2.6" stroke-linejoin="round"/>
<path d="M337.05,454.50 L337.05,459.76 M330.05,454.50 L344.05,454.50 M330.05,459.76 L344.05,459.76" stroke="#000" stroke-width="1.4" fill="none"/>
<path d="M369.55,442.68 L369.55,447.94 M362.55,442.68 L376.55,442.68 M362.55,447.94 L376.55,447.94" stroke="#000" stroke-width="1.4" fill="none"/>
<path d="M402.05,428.24 L402.05,433.49 M395.05,428.24 L409.05,428.24 M395.05,433.49 L409.05,433.49" stroke="#000" stroke-width="1.4" fill="none"/>
<path d="M434.55,396.72 L434.55,401.97 M427.55,396.72 L441.55,396.72 M427.55,401.97 L441.55,401.97" stroke="#000" stroke-width="1.4" fill="none"/>
<path d="M467.05,351.73 L467.05,358.30 M460.05,351.73 L474.05,351.73 M460.05,358.30 L474.05,358.30" stroke="#000" stroke-width="1.4" fill="none"/>
<path d="M499.55,310.04 L499.55,316.60 M492.55,310.04 L506.55,310.04 M492.55,316.60 L506.55,316.60" stroke="#000" stroke-width="1.4" fill="none"/>
<path d="M337.05,457.13 L369.55,445.31 L402.05,430.86 L434.55,399.34 L467.05,355.02 L499.55,313.32" stroke="#000" stroke-width="1.6" fill="none" stroke-linejoin="round"/>
<path d="M331.55,451.63 L342.55,462.63 M342.55,451.63 L331.55,462.63" stroke="#000" stroke-width="2.3" fill="none"/>
<path d="M364.05,439.81 L375.05,450.81 M375.05,439.81 L364.05,450.81" stroke="#000" stroke-width="2.3" fill="none"/>
<path d="M396.55,425.36 L407.55,436.36 M407.55,425.36 L396.55,436.36" stroke="#000" stroke-width="2.3" fill="none"/>
<path d="M429.05,393.84 L440.05,404.84 M440.05,393.84 L429.05,404.84" stroke="#000" stroke-width="2.3" fill="none"/>
<path d="M461.55,349.52 L472.55,360.52 M472.55,349.52 L461.55,360.52" stroke="#000" stroke-width="2.3" fill="none"/>
<path d="M494.05,307.82 L505.05,318.82 M505.05,307.82 L494.05,318.82" stroke="#000" stroke-width="2.3" fill="none"/>
<line x1="222.5" y1="553.30" x2="264.5" y2="553.30" stroke="#000" stroke-width="1.3"/>
<path d="M243.60,549.41 L247.20,556.36 L240.00,556.36Z" fill="#000"/>
<text x="268.7" y="558.30" font-size="12.9">medium only</text>
<line x1="222.5" y1="580.00" x2="264.5" y2="580.00" stroke="#000" stroke-width="1.3"/>
<path d="M240.40,576.80 L246.80,583.20 M246.80,576.80 L240.40,583.20" stroke="#000" stroke-width="1.1" fill="none"/>
<text x="268.7" y="585.70" font-size="12.9">1 µg 3H10 peptide</text>
<line x1="222.5" y1="606.50" x2="264.5" y2="606.50" stroke="#000" stroke-width="1.3"/>
<path d="M243.60,603.50 L246.60,606.50 L243.60,609.50 L240.60,606.50Z" fill="#000" stroke="#000" stroke-width="1.2" stroke-linejoin="round"/>
<text x="268.7" y="612.80" font-size="12.9">10ng Ab+ 3H10</text>
<line x1="222.5" y1="633.40" x2="264.5" y2="633.40" stroke="#000" stroke-width="1.3"/>
<rect x="240.60" y="630.40" width="6.00" height="6.00" fill="none" stroke="#000" stroke-width="1.2"/>
<text x="268.7" y="640.20" font-size="12.9">1ng Ab+ 3H10</text>
<line x1="222.5" y1="660.40" x2="264.5" y2="660.40" stroke="#000" stroke-width="1.3"/>
<circle cx="243.60" cy="660.40" r="3.00" fill="none" stroke="#000" stroke-width="1.2"/>
<text x="268.7" y="667.30" font-size="12.9">10ng Ab (no 3H10)</text>
</svg>
</body></html>
